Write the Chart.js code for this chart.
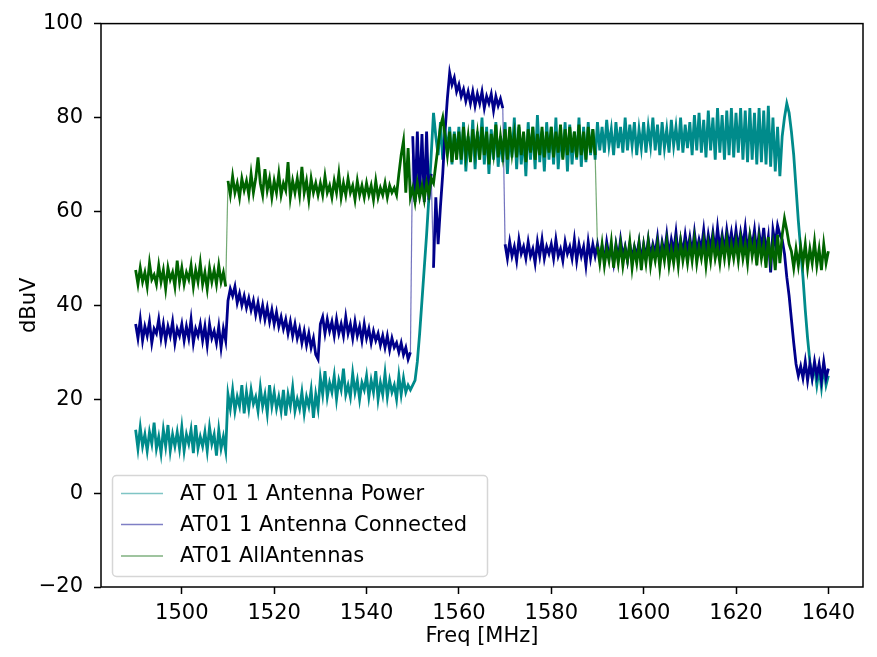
<!DOCTYPE html>
<html>
<head>
<meta charset="utf-8">
<script src="https://cdn.jsdelivr.net/npm/chart.js@4"></script>
<style>
  html, body { margin: 0; padding: 0; background: #fff; }
  #wrap { width: 877px; height: 657px; }
</style>
</head>
<body>
<div id="wrap"><canvas id="myChart" width="877" height="657"></canvas></div>
<script>
// sweep: 1490 .. 1640 MHz, one reading every 0.5 MHz
const freqStart = 1490;
const freqStep = 0.5;

const seriesLabels = ['AT 01 1 Antenna Power', 'AT01 1 Antenna Connected', 'AT01 AllAntennas'];
const xTickValues = [1500, 1520, 1540, 1560, 1580, 1600, 1620, 1640];
const yTickValues = [-20, 0, 20, 40, 60, 80, 100];

// AT 01 1 Antenna Power (dBuV)
const powerDbuv = [
  // 1490 - 1509.5
  13.5, 9.5, 14, 10, 12.5, 9, 13, 10.5, 15, 9.5, 12, 8.5, 13.5, 10, 14.5, 9, 12.5, 10, 13, 9.5,
  14, 9, 12.5, 10.5, 13.5, 8.5, 14.5, 9.5, 12, 10, 13, 9, 14, 10.5, 12.5, 8, 13.5, 9.5, 12, 9,
  // 1510 - 1529.5
  21, 18, 22, 17.5, 20.5, 18.5, 23, 17, 21.5, 18, 22, 19, 20.5, 17.5, 22.5, 18.5, 21, 17, 23, 18.5,
  21.5, 18, 20.5, 17.5, 22, 16.5, 21, 18.5, 22.5, 17.5, 20, 18, 21.5, 17, 20.5, 18.5, 22, 16, 21, 18,
  // 1530 - 1549.5
  24.5, 21, 26, 20.5, 23.5, 21.5, 25, 20, 24, 22, 26.5, 21, 23, 20.5, 25.5, 21.5, 24, 20, 23.5, 22,
  25, 20.5, 24, 21.5, 26, 20, 23.5, 21, 25.5, 20.5, 24, 21.5, 23, 20, 25, 21, 24.5, 21.5, 23, 22,
  // 1550 - 1559.5
  23, 24, 28, 34, 41, 48, 55, 63, 72, 81, 76, 72, 79, 71, 77, 73, 78, 70, 77, 72,
  // 1560 - 1589.5
  78, 70, 79, 68.5, 76, 71, 79.5, 69, 77, 72, 80, 70, 78, 68, 77.5, 71, 79, 69.5, 76, 70.5,
  79, 68, 77, 71.5, 80, 69, 78, 70, 76.5, 67.5, 79, 71, 78, 69, 80.5, 70.5, 77, 68.5, 79, 71,
  78, 70, 80, 69, 77, 71.5, 79, 68.5, 78.5, 70, 77, 71, 80, 69.5, 78, 70.5, 79, 72, 77.5, 71,
  // 1590 - 1629.5
  79, 73, 78, 72.5, 79.5, 74, 77.5, 72, 79, 73.5, 78, 72.5, 80, 73, 78.5, 74, 79, 72, 77.5, 73.5,
  79, 72.5, 78, 74, 80, 73, 78.5, 72, 79, 73.5, 77.5, 72.5, 79.5, 74, 78, 73, 80, 72.5, 78.5, 73.5,
  79, 72, 80.5, 73, 81, 72.5, 79.5, 71.5, 81.5, 73, 80, 71, 82, 72.5, 80.5, 71, 81.5, 72, 82, 71.5,
  81, 72.5, 82, 71, 81.5, 70.5, 82, 71, 81, 70, 82, 70.5, 81.5, 70, 82.5, 69.5, 80, 68.5, 78, 67.5,
  // 1630 - 1640
  76, 80, 83, 81, 77, 72, 65, 58, 52, 46, 39, 33, 28, 24.5, 27, 23, 26.5, 22.5, 27, 23, 25
];

// AT01 1 Antenna Connected (dBuV)
const connectedDbuv = [
  // 1490 - 1509.5
  36, 33, 37, 32.5, 35.5, 33.5, 36.5, 32, 35, 34, 37, 33, 36, 32.5, 35.5, 33.5, 36.5, 32, 35, 33.5,
  36, 32.5, 35.5, 33, 37, 32, 35, 33.5, 36, 32.5, 35.5, 31.5, 36, 33, 34.5, 32, 35.5, 31, 35, 32.5,
  // 1510 - 1529.5
  41, 43.5, 42, 44, 40.5, 42.5, 40, 42, 39.5, 41.5, 39, 41, 38, 40.5, 37.5, 40, 37, 39.5, 36.5, 39,
  36, 38.5, 35.5, 37.5, 35, 37, 34, 36.5, 33.5, 36, 33, 35, 32, 34.5, 31.5, 34, 31, 33, 29.5, 28.5,
  // 1530 - 1549.5
  36, 37.5, 34, 37, 34.5, 36.5, 33.5, 37, 34, 36, 33.5, 37.5, 34, 36, 33, 36.5, 33.5, 35.5, 32.5, 36,
  33, 35, 32, 34.5, 32.5, 34, 31.5, 33.5, 31, 33.5, 30.5, 33, 31, 32, 30, 32, 29.5, 31, 28.5, 30,
  // 1550 - 1559.5
  76, 62, 77, 63, 76.5, 62, 77, 62.5, 68, 48, 63, 53, 61, 68, 77, 84, 89.5, 87, 88.5, 85.5,
  // 1560 - 1569.5
  87, 84.5, 86, 83.5, 85.5, 83, 85.5, 82.5, 85, 83, 85.5, 82, 84.5, 83, 85, 81.5, 84.5, 82.5, 84, 82,
  // 1570 - 1589.5
  53, 50, 53.5, 50.5, 52.5, 49.5, 54, 51, 52.5, 50, 53.5, 50.5, 52, 49, 53.5, 50.5, 54, 50, 52.5, 51,
  53, 50, 54, 50.5, 52, 49.5, 53.5, 51, 52.5, 50, 54, 49.5, 53, 50.5, 52.5, 48.5, 53.5, 50, 53, 50.5,
  // 1590 - 1629.5
  53, 50, 52.5, 49.5, 53.5, 50.5, 52, 49, 53, 50, 54, 50.5, 52.5, 49.5, 53, 50, 52.5, 50.5, 53.5, 49.5,
  53, 50, 54, 50.5, 53, 51, 54.5, 50, 53.5, 51, 55, 50.5, 54, 51.5, 55.5, 50.5, 54, 51, 55, 51.5,
  54.5, 51, 55.5, 51.5, 54, 52, 56, 51, 55, 52, 55.5, 51.5, 56.5, 52, 55, 51.5, 56, 52.5, 55.5, 52,
  56, 52, 55.5, 52.5, 56.5, 51.5, 55, 52.5, 56, 51, 55.5, 52, 56.5, 51, 54.5, 47, 56, 53, 57, 55,
  // 1630 - 1640
  54, 51, 46, 42, 37, 32, 27.5, 25, 27, 24.5, 28, 24, 27.5, 24.5, 28, 25, 27.5, 24, 28, 24.5, 26.5
];

// AT01 AllAntennas (dBuV)
const allAntennasDbuv = [
  // 1490 - 1509.5
  47.5, 44.5, 48, 45, 47, 44, 49, 45.5, 46.5, 44.5, 48.5, 45, 47.5, 43.5, 48, 45.5, 47, 44, 49.5, 45,
  48, 44.5, 47, 45.5, 48.5, 44, 47.5, 45, 49, 44.5, 47, 43.5, 48, 45, 47.5, 44.5, 48.5, 45, 47, 44,
  // 1510 - 1549.5
  66.5, 63.5, 67.5, 64, 66, 63, 67, 64.5, 66.5, 63.5, 68, 64, 67, 71.5, 66, 63.5, 69, 64.5, 67, 63,
  66.5, 64, 68, 63.5, 66, 64.5, 70.5, 63, 66.5, 64, 67, 63.5, 69.5, 64, 66.5, 62.5, 67, 64, 66, 63.5,
  66, 63.5, 67.5, 64, 65.5, 63, 66.5, 64, 68, 63, 66, 63.5, 67, 64, 65.5, 62.5, 66.5, 63.5, 65.5, 63,
  66, 63.5, 65.5, 62.5, 66.5, 63, 65, 63.5, 66, 63, 65.5, 64, 65, 63.5, 68, 72, 75, 64, 73.5, 63,
  // 1550 - 1559.5
  65, 62, 66, 63, 65.5, 62.5, 66, 63.5, 67, 66, 70, 74, 78, 80, 76, 72, 77, 70.5, 76.5, 71,
  // 1560 - 1589.5
  77, 71, 78, 72, 76, 70.5, 77.5, 72.5, 76.5, 71, 78, 72, 77, 70, 76.5, 72.5, 78.5, 71.5, 76, 72,
  77.5, 71, 78, 72.5, 76.5, 71.5, 78.5, 72, 77, 70.5, 77.5, 72.5, 78, 71, 76.5, 72, 78, 71.5, 77, 72.5,
  78, 71.5, 77, 72.5, 78.5, 71, 77.5, 72, 78, 72.5, 77, 71.5, 78.5, 72, 77, 71, 78, 72.5, 77.5, 72,
  // 1590 - 1629.5
  52.5, 49, 53, 48.5, 52, 49.5, 53.5, 48, 52.5, 49, 53, 48.5, 52, 49.5, 53.5, 48, 52, 49, 53, 47.5,
  52.5, 49, 53.5, 48.5, 52, 49.5, 53, 48, 52.5, 49.5, 53.5, 48.5, 52, 49, 53, 48.5, 53.5, 49.5, 52.5, 49,
  53, 49.5, 54, 49, 52.5, 50, 53.5, 48.5, 53, 49.5, 54, 50, 52.5, 49, 53.5, 50, 54, 49.5, 53, 50,
  53.5, 49.5, 54, 50, 53, 49, 54.5, 50.5, 53.5, 48.5, 54, 50, 53, 48, 54.5, 49.5, 53, 47.5, 55, 49,
  // 1630 - 1640
  55, 58.5, 56, 53, 51.5, 48, 52, 48.5, 52.5, 49, 53, 48, 52, 49, 53.5, 48.5, 52, 47.5, 53, 49, 51.5
];

const seriesColors = ['0, 139, 139', '0, 0, 139', '0, 100, 0'];
const FONT = 'DejaVu Sans';

function toPoints(values) {
    return values.map((v, i) => ({x: freqStart + i * freqStep, y: v}));
}

function minusSign(v) {
    return v < 0 ? '\u2212' + Math.abs(v) : String(v);
}

// big jumps (band steps, deep spikes) are single thin strokes in the original
function isJump(seg) {
    return Math.abs(seg.p1.parsed.y - seg.p0.parsed.y) >= 19;
}

// matplotlib style box around the axes
const framePlugin = {
    id: 'frame',
    afterDatasetsDraw(chart) {
        const {ctx, chartArea: a} = chart;
        ctx.save();
        ctx.strokeStyle = '#000';
        ctx.lineWidth = 1.5;
        ctx.strokeRect(a.left, a.top, a.right - a.left, a.bottom - a.top);
        ctx.restore();
    }
};

// legend box in the lower left corner of the axes
const legendPlugin = {
    id: 'boxLegend',
    afterDraw(chart) {
        const ctx = chart.ctx;
        ctx.save();
        ctx.beginPath();
        ctx.roundRect(112.5, 475.5, 375, 101, 4);
        ctx.fillStyle = 'rgba(255, 255, 255, 0.8)';
        ctx.fill();
        ctx.strokeStyle = 'rgba(204, 204, 204, 0.8)';
        ctx.lineWidth = 1.5;
        ctx.stroke();
        const rows = [493.5, 524.5, 556];
        ctx.font = '21px "' + FONT + '"';
        ctx.textBaseline = 'middle';
        seriesLabels.forEach((label, i) => {
            ctx.strokeStyle = 'rgba(' + seriesColors[i] + ', 0.5)';
            ctx.lineWidth = 1.5;
            ctx.beginPath();
            ctx.moveTo(121, rows[i]);
            ctx.lineTo(163, rows[i]);
            ctx.stroke();
            ctx.fillStyle = '#000';
            ctx.fillText(label, 180, rows[i] + 1);
        });
        ctx.restore();
    }
};

const datasets = [powerDbuv, connectedDbuv, allAntennasDbuv].map((values, i) => ({
    label: seriesLabels[i],
    data: toPoints(values),
    borderColor: 'rgb(' + seriesColors[i] + ')',
    borderWidth: 2.8,
    borderJoinStyle: 'miter',
    segment: {
        borderWidth: seg => isJump(seg) ? 1.2 : 2.8,
        borderColor: seg => isJump(seg) ? 'rgba(' + seriesColors[i] + ', 0.55)' : 'rgb(' + seriesColors[i] + ')'
    },
    pointRadius: 0,
    tension: 0,
    fill: false,
    order: 3 - i
}));

const config = {
    type: 'line',
    data: {datasets: datasets},
    options: {
        responsive: false,
        devicePixelRatio: 1,
        animation: false,
        events: [],
        layout: {padding: {left: 0, right: 14, top: 18, bottom: 0}},
        plugins: {legend: {display: false}, tooltip: {enabled: false}},
        scales: {
            x: {
                type: 'linear',
                min: 1482.5,
                max: 1647.5,
                afterBuildTicks: scale => { scale.ticks = xTickValues.map(v => ({value: v})); },
                afterFit: scale => { scale.height = 70; },
                border: {display: false},
                grid: {drawOnChartArea: false, drawTicks: true, tickLength: 7, tickWidth: 1.5, tickColor: '#000'},
                ticks: {
                    autoSkip: false, maxRotation: 0, padding: 7, color: '#000',
                    font: {family: FONT, size: 21},
                    callback: v => String(v)
                },
                title: {display: true, text: 'Freq [MHz]', color: '#000',
                        font: {family: FONT, size: 21, lineHeight: 1.2}, padding: {top: 0, bottom: 8}}
            },
            y: {
                type: 'linear',
                min: -20,
                max: 100,
                afterBuildTicks: scale => { scale.ticks = yTickValues.map(v => ({value: v})); },
                afterFit: scale => { scale.width = 101; },
                border: {display: false},
                grid: {drawOnChartArea: false, drawTicks: true, tickLength: 7, tickWidth: 1.5, tickColor: '#000'},
                ticks: {
                    padding: 11, color: '#000',
                    font: {family: FONT, size: 21},
                    callback: v => minusSign(v)
                },
                title: {display: true, text: 'dBuV', color: '#000',
                        font: {family: FONT, size: 21, lineHeight: 1.2}, padding: {top: 17, bottom: 0}}
            }
        }
    },
    plugins: [framePlugin, legendPlugin]
};

const myChart = new Chart(document.getElementById('myChart'), config);
</script>
</body>
</html>
